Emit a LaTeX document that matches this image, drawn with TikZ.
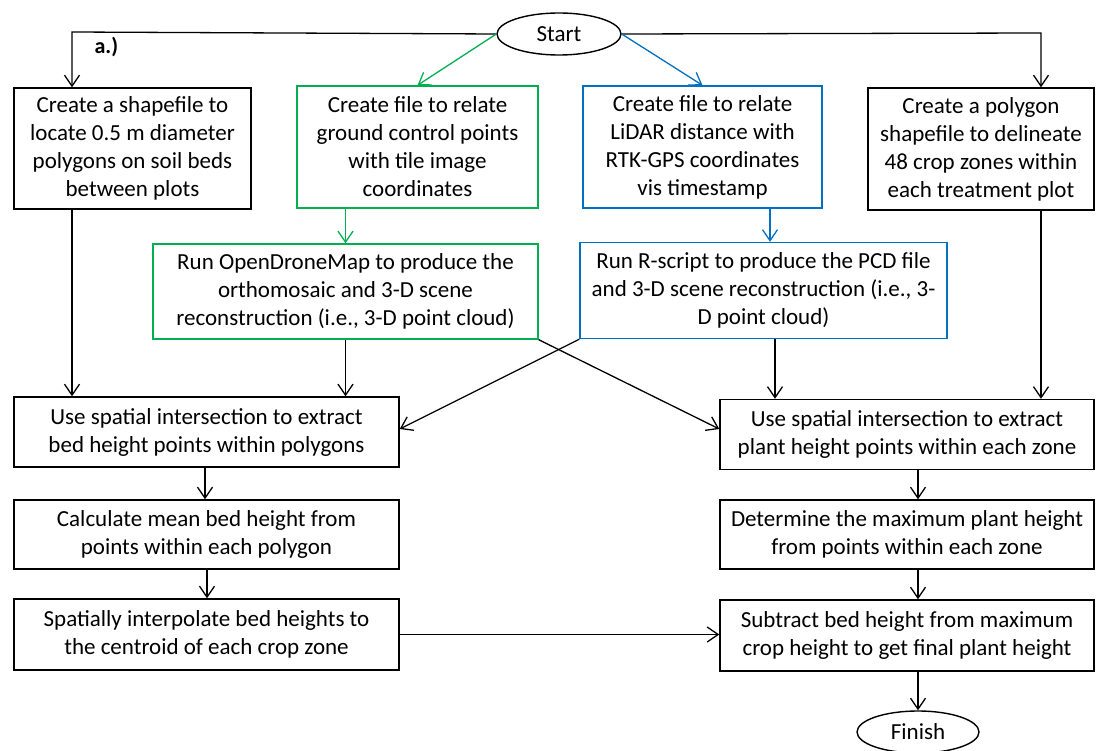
\documentclass[tikz,border=0pt]{standalone}
\usepackage{fontspec}
\setmainfont{Carlito}
\usetikzlibrary{arrows.meta,shapes.geometric}
\definecolor{ggreen}{HTML}{00B050}
\definecolor{bblue}{HTML}{0070C0}
\begin{document}
\begin{tikzpicture}[x=1pt,y=-1pt,
  box/.style={draw=black, line width=1.4pt, fill=white, align=center, inner sep=0pt,
    font=\fontsize{23}{28}\selectfont},
  gbox/.style={box, draw=ggreen},
  bbox/.style={box, draw=bblue},
  term/.style={draw=black, line width=1.4pt, ellipse, inner sep=0pt,
    font=\fontsize{23}{26}\selectfont},
  arr/.style={draw=black, line width=1.3pt, -{Straight Barb[length=11pt,width=15pt]}},
  garr/.style={arr, draw=ggreen},
  barr/.style={arr, draw=bblue}]
\useasboundingbox (0,0) rectangle (1099,751);
\fill[white] (0,0) rectangle (1099,751);

% terminals
\node[term, minimum width=124pt, minimum height=42pt] (start) at (559,34) {Start};
\node[term, minimum width=122pt, minimum height=42pt] (finish) at (918,732) {Finish};

% top row
\node[box,  minimum width=237pt, minimum height=121pt] (b1) at (132.5,148.5) {Create a shapefile to\\locate 0.5 m diameter\\polygons on soil beds\\between plots};
\node[gbox, minimum width=241pt, minimum height=122pt] (g1) at (417.5,147) {Create file to relate\\ground control points\\with tile image\\coordinates};
\node[bbox, minimum width=239pt, minimum height=122pt] (u1) at (702.5,147) {Create file to relate\\LiDAR distance with\\RTK-GPS coordinates\\vis timestamp};
\node[box,  minimum width=226pt, minimum height=122pt] (b2) at (981,149) {Create a polygon\\shapefile to delineate\\48 crop zones within\\each treatment plot};

% second row
\node[gbox, minimum width=385pt, minimum height=95pt] (g2) at (345.5,291.5) {Run OpenDroneMap to produce the\\orthomosaic and 3-D scene\\reconstruction (i.e., 3-D point cloud)};
\node[bbox, minimum width=367pt, minimum height=96pt] (u2) at (763.5,290.5) {Run R-script to produce the PCD file\\and 3-D scene reconstruction (i.e., 3-\\D point cloud)};

% lower rows
\node[box, minimum width=385pt, minimum height=70pt] (L1) at (206.5,432) {Use spatial intersection to extract\\bed height points within polygons};
\node[box, minimum width=374pt, minimum height=70pt] (R1) at (907,434.5) {Use spatial intersection to extract\\plant height points within each zone};
\node[box, minimum width=385pt, minimum height=69pt] (L2) at (206.5,534.5) {Calculate mean bed height from\\points within each polygon};
\node[box, minimum width=374pt, minimum height=69pt] (R2) at (907,534.5) {Determine the maximum plant height\\from points within each zone};
\node[box, minimum width=385pt, minimum height=71pt] (L3) at (206.5,634.5) {Spatially interpolate bed heights to\\the centroid of each crop zone};
\node[box, minimum width=374pt, minimum height=71pt] (R3) at (907,635.5) {Subtract bed height from maximum\\crop height to get final plant height};

\node[font=\bfseries\fontsize{22}{24}\selectfont, anchor=west] (lab) at (91,47) {a.)};

% connectors from start
\coordinate (sl) at (72,32);
\coordinate (sr) at (1041,33);
\draw[arr] (start.west) -- (sl) -- (sl |- b1.north);
\draw[arr] (start.east) -- (sr) -- (sr |- b2.north);
\draw[garr] (start.west) -- (g1.north);
\draw[barr] (start.east) -- (u1.north);

% first to second row
\draw[garr] (g2.north |- g1.south) -- (g2.north);
\coordinate (ux) at (770,0);
\draw[barr] (ux |- u1.south) -- (ux |- u2.north);

% down to L1 / R1
\draw[arr] (sl |- b1.south) -- (sl |- L1.north);
\draw[arr] (g2.south) -- (g2.south |- L1.north);
\coordinate (ux2) at (775,0);
\draw[arr] (ux2 |- u2.south) -- (ux2 |- R1.north);
\draw[arr] (sr |- b2.south) -- (sr |- R1.north);
\coordinate (r1in) at (720,429);
\coordinate (l1in) at (399,429);
\draw[arr] (g2.south east) -- (R1.west |- r1in);
\draw[arr] (u2.south west) -- (L1.east |- l1in);

% left column
\coordinate (lx) at (205,0);
\draw[arr] (lx |- L1.south) -- (lx |- L2.north);
\coordinate (lx2) at (207,0);
\draw[arr] (lx2 |- L2.south) -- (lx2 |- L3.north);

% right column
\coordinate (rx) at (918,0);
\draw[arr] (rx |- R1.south) -- (rx |- R2.north);
\draw[arr] (rx |- R2.south) -- (rx |- R3.north);
\draw[arr] (L3.east) -- (R3.west |- L3.east);
\draw[arr] (rx |- R3.south) -- (finish.north);
\end{tikzpicture}
\end{document}
